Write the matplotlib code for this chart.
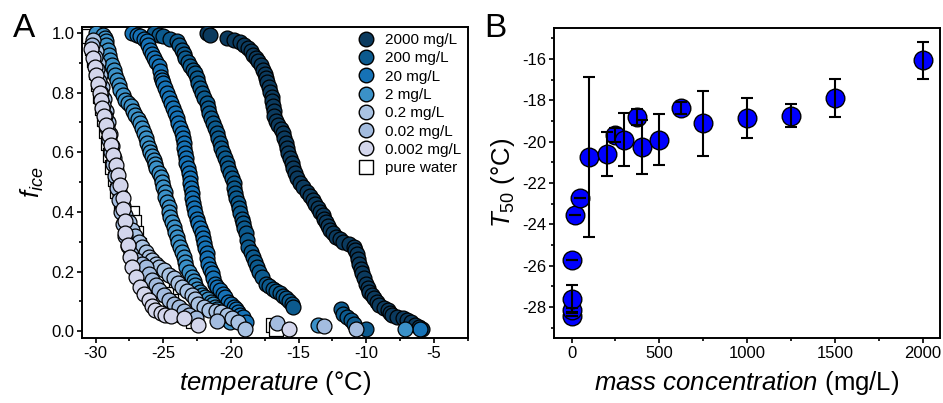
"""Two-panel figure: freezing curves (A) and T50 vs mass concentration (B)."""

import matplotlib
matplotlib.use("Agg")
import matplotlib.pyplot as plt
import numpy as np
from matplotlib.lines import Line2D
from matplotlib.ticker import MultipleLocator

# ---- panel A: frozen fraction curves, (temperature degC, f_ice) ----
curve_2000 = [
    (-21.75, 1.000), (-21.55, 0.992), (-20.3, 0.983), (-19.8, 0.976), (-19.3, 0.969),
    (-19.0, 0.960), (-18.7, 0.950), (-18.5, 0.940), (-18.35, 0.927), (-18.15, 0.916),
    (-18.0, 0.905), (-17.8, 0.891), (-17.6, 0.877), (-17.5, 0.863), (-17.4, 0.849),
    (-17.3, 0.835), (-17.2, 0.820), (-17.1, 0.803), (-17.0, 0.787), (-16.95, 0.771),
    (-16.9, 0.754), (-16.85, 0.737), (-16.8, 0.720), (-16.65, 0.705), (-16.5, 0.690),
    (-16.3, 0.677), (-16.15, 0.664), (-16.05, 0.647), (-15.95, 0.630), (-15.85, 0.613),
    (-15.8, 0.597), (-15.65, 0.580), (-15.5, 0.563), (-15.4, 0.547), (-15.3, 0.530),
    (-15.1, 0.513), (-14.9, 0.496), (-14.65, 0.482), (-14.4, 0.468), (-14.15, 0.454),
    (-13.9, 0.440), (-13.75, 0.426), (-13.6, 0.412), (-13.4, 0.401), (-13.2, 0.390),
    (-13.1, 0.378), (-13.0, 0.367), (-12.85, 0.353), (-12.7, 0.339), (-12.45, 0.328),
    (-12.2, 0.317), (-11.95, 0.308), (-11.7, 0.300), (-11.3, 0.291), (-10.9, 0.283),
    (-10.8, 0.271), (-10.7, 0.260), (-10.6, 0.243), (-10.5, 0.227), (-10.4, 0.210),
    (-10.3, 0.194), (-10.15, 0.177), (-10.0, 0.160), (-9.9, 0.146), (-9.8, 0.132),
    (-9.6, 0.121), (-9.4, 0.110), (-9.2, 0.098), (-9.05, 0.087), (-8.7, 0.078),
    (-8.4, 0.070), (-8.25, 0.062), (-8.1, 0.054), (-7.7, 0.048), (-7.3, 0.043),
    (-7.0, 0.037), (-6.7, 0.031), (-6.4, 0.020), (-6.1, 0.014), (-5.9, 0.009),
]

curve_200 = [
    (-25.7, 1.000), (-25.3, 0.994), (-25.0, 0.989), (-24.5, 0.981), (-24.0, 0.972),
    (-23.8, 0.958), (-23.6, 0.944), (-23.5, 0.930), (-23.4, 0.916), (-23.2, 0.902),
    (-23.0, 0.888), (-22.8, 0.877), (-22.65, 0.866), (-22.5, 0.849), (-22.4, 0.832),
    (-22.3, 0.816), (-22.15, 0.800), (-22.0, 0.783), (-21.8, 0.765), (-21.7, 0.748),
    (-21.6, 0.731), (-21.45, 0.715), (-21.3, 0.698), (-21.2, 0.681), (-21.05, 0.664),
    (-20.95, 0.647), (-20.8, 0.630), (-20.7, 0.613), (-20.6, 0.597), (-20.45, 0.580),
    (-20.3, 0.563), (-20.2, 0.547), (-20.1, 0.530), (-19.95, 0.513), (-19.8, 0.496),
    (-19.75, 0.479), (-19.7, 0.462), (-19.6, 0.446), (-19.5, 0.429), (-19.4, 0.412),
    (-19.3, 0.395), (-19.2, 0.378), (-19.1, 0.362), (-19.0, 0.345), (-18.9, 0.328),
    (-18.8, 0.306), (-18.7, 0.283), (-18.5, 0.267), (-18.35, 0.250), (-18.2, 0.233),
    (-18.1, 0.216), (-17.9, 0.200), (-17.7, 0.183), (-17.4, 0.160), (-17.15, 0.151),
    (-16.9, 0.143), (-16.65, 0.135), (-16.4, 0.127), (-16.15, 0.119), (-15.9, 0.110),
    (-15.7, 0.101), (-15.5, 0.093), (-15.4, 0.082), (-11.9, 0.076), (-11.75, 0.059),
    (-11.4, 0.048), (-11.1, 0.037), (-10.9, 0.026), (-10.0, 0.009),
]

curve_20 = [
    (-27.3, 1.000), (-26.95, 0.994), (-26.7, 0.989), (-26.45, 0.980), (-26.2, 0.972),
    (-26.1, 0.958), (-26.0, 0.944), (-25.85, 0.930), (-25.7, 0.916), (-25.5, 0.902),
    (-25.35, 0.888), (-25.25, 0.871), (-25.2, 0.854), (-25.1, 0.843), (-25.0, 0.832),
    (-24.85, 0.816), (-24.7, 0.800), (-24.55, 0.782), (-24.4, 0.765), (-24.25, 0.748),
    (-24.1, 0.731), (-24.0, 0.715), (-23.9, 0.698), (-23.75, 0.681), (-23.6, 0.664),
    (-23.55, 0.647), (-23.5, 0.630), (-23.45, 0.613), (-23.4, 0.597), (-23.35, 0.580),
    (-23.3, 0.563), (-23.2, 0.547), (-23.1, 0.530), (-23.05, 0.513), (-23.0, 0.496),
    (-22.95, 0.479), (-22.9, 0.462), (-22.85, 0.446), (-22.8, 0.429), (-22.7, 0.412),
    (-22.65, 0.395), (-22.5, 0.378), (-22.4, 0.362), (-22.3, 0.345), (-22.15, 0.328),
    (-22.05, 0.311), (-22.0, 0.295), (-21.9, 0.278), (-21.8, 0.261), (-21.75, 0.244),
    (-21.7, 0.227), (-21.55, 0.210), (-21.4, 0.194), (-21.3, 0.177), (-21.2, 0.160),
    (-21.0, 0.149), (-20.8, 0.138), (-20.6, 0.126), (-20.4, 0.115), (-20.2, 0.099),
    (-20.0, 0.090), (-19.8, 0.082), (-19.65, 0.073), (-19.5, 0.065), (-19.3, 0.056),
    (-19.1, 0.048), (-18.85, 0.031), (-6.0, 0.009),
]

curve_2 = [
    (-30.0, 1.000), (-29.45, 0.994), (-29.3, 0.983), (-29.25, 0.972), (-29.2, 0.958),
    (-29.1, 0.944), (-29.0, 0.927), (-28.9, 0.910), (-28.8, 0.894), (-28.65, 0.877),
    (-28.55, 0.860), (-28.4, 0.843), (-28.3, 0.827), (-28.2, 0.810), (-28.0, 0.793),
    (-27.8, 0.776), (-27.6, 0.765), (-27.4, 0.754), (-27.2, 0.740), (-27.05, 0.726),
    (-26.9, 0.712), (-26.7, 0.698), (-26.55, 0.681), (-26.45, 0.664), (-26.3, 0.647),
    (-26.2, 0.630), (-26.05, 0.616), (-25.95, 0.602), (-25.8, 0.588), (-25.7, 0.574),
    (-25.6, 0.560), (-25.5, 0.546), (-25.35, 0.532), (-25.2, 0.518), (-25.1, 0.501),
    (-25.0, 0.485), (-24.9, 0.468), (-24.85, 0.451), (-24.7, 0.434), (-24.6, 0.418),
    (-24.55, 0.401), (-24.5, 0.384), (-24.35, 0.367), (-24.2, 0.350), (-24.1, 0.333),
    (-24.0, 0.317), (-23.9, 0.300), (-23.75, 0.283), (-23.6, 0.266), (-23.5, 0.250),
    (-23.4, 0.233), (-23.3, 0.216), (-23.1, 0.200), (-22.9, 0.183), (-22.75, 0.169),
    (-22.65, 0.155), (-22.5, 0.143), (-22.3, 0.132), (-22.1, 0.123), (-21.9, 0.115),
    (-21.7, 0.107), (-21.5, 0.099), (-21.35, 0.090), (-21.2, 0.082), (-21.05, 0.073),
    (-20.9, 0.065), (-20.75, 0.056), (-20.6, 0.048), (-20.3, 0.040), (-20.1, 0.031),
    (-13.6, 0.020), (-7.1, 0.009),
]

curve_0p2 = [
    (-30.2, 0.977), (-30.0, 0.940), (-29.85, 0.900), (-29.7, 0.860), (-29.55, 0.820),
    (-29.4, 0.780), (-29.25, 0.740), (-29.1, 0.700), (-28.95, 0.660), (-28.8, 0.620),
    (-28.65, 0.580), (-28.5, 0.540), (-28.35, 0.500), (-28.2, 0.460), (-28.0, 0.420),
    (-27.8, 0.390), (-27.55, 0.365), (-27.3, 0.340), (-27.05, 0.320), (-26.8, 0.300),
    (-26.55, 0.283), (-26.3, 0.265), (-26.05, 0.250), (-25.8, 0.238), (-25.55, 0.225),
    (-25.3, 0.215), (-24.95, 0.205), (-24.6, 0.190), (-24.2, 0.177), (-23.9, 0.163),
    (-23.6, 0.149), (-23.25, 0.135), (-22.9, 0.121), (-22.65, 0.107), (-22.4, 0.093),
    (-22.0, 0.081), (-21.6, 0.070), (-21.1, 0.067), (-20.7, 0.065), (-20.3, 0.056),
    (-19.9, 0.045), (-19.45, 0.031), (-18.95, 0.009),
]

curve_0p02 = [
    (-30.25, 0.960), (-30.05, 0.920), (-29.9, 0.880), (-29.75, 0.840), (-29.6, 0.800),
    (-29.45, 0.760), (-29.3, 0.720), (-29.15, 0.680), (-29.0, 0.640), (-28.85, 0.600),
    (-28.7, 0.560), (-28.55, 0.520), (-28.4, 0.480), (-28.25, 0.440), (-28.1, 0.400),
    (-27.95, 0.360), (-27.8, 0.320), (-27.6, 0.285), (-27.35, 0.260), (-27.0, 0.240),
    (-26.6, 0.226), (-26.3, 0.216), (-26.05, 0.193), (-25.8, 0.171), (-25.55, 0.155),
    (-25.3, 0.138), (-24.95, 0.121), (-24.6, 0.104), (-24.2, 0.093), (-23.85, 0.082),
    (-23.45, 0.068), (-23.1, 0.054), (-22.6, 0.043), (-21.0, 0.035), (-16.6, 0.028),
    (-13.1, 0.019), (-10.75, 0.009),
]

curve_0p002 = [
    (-30.35, 0.945), (-30.2, 0.915), (-30.05, 0.885), (-29.95, 0.860), (-29.8, 0.830),
    (-29.7, 0.800), (-29.6, 0.775), (-29.5, 0.748), (-29.35, 0.720), (-29.2, 0.690),
    (-29.0, 0.658), (-28.85, 0.625), (-28.7, 0.590), (-28.5, 0.557), (-28.35, 0.525),
    (-28.2, 0.490), (-28.0, 0.446), (-27.95, 0.410), (-27.85, 0.370), (-27.8, 0.330),
    (-27.6, 0.290), (-27.45, 0.250), (-27.3, 0.216), (-27.0, 0.182), (-26.7, 0.149),
    (-26.4, 0.125), (-26.05, 0.104), (-25.8, 0.085), (-25.6, 0.070), (-25.2, 0.060),
    (-24.85, 0.054), (-24.4, 0.050), (-23.5, 0.043), (-22.45, 0.020), (-15.7, 0.009),
]

curve_water = [
    (-30.5, 0.990), (-30.3, 0.950), (-30.15, 0.910), (-30.0, 0.870), (-29.85, 0.830),
    (-29.7, 0.790), (-29.55, 0.750), (-29.4, 0.710), (-29.25, 0.670), (-29.1, 0.630),
    (-28.95, 0.590), (-28.8, 0.550), (-28.6, 0.510), (-28.4, 0.470), (-28.1, 0.430),
    (-27.3, 0.395), (-27.15, 0.367), (-27.0, 0.330), (-26.8, 0.290), (-26.5, 0.250),
    (-26.2, 0.215), (-25.8, 0.190), (-25.4, 0.168), (-25.1, 0.150), (-24.8, 0.125),
    (-24.4, 0.100), (-24.0, 0.075), (-23.5, 0.055), (-22.8, 0.035), (-16.9, 0.020),
    (-16.7, 0.009),
]

labels_a = ["2000 mg/L", "200 mg/L", "20 mg/L", "2 mg/L",
            "0.2 mg/L", "0.02 mg/L", "0.002 mg/L"]
colors_a = ["#0b3a5e", "#0c5a8e", "#1672b6", "#3b91c8",
            "#a9c3e3", "#a3bcdf", "#d3d6ec"]

# ---- panel B: T50 vs mass concentration ----
conc = [0.002, 0.02, 0.2, 2, 20, 50, 100, 200, 250, 300, 375, 400, 500,
        625, 750, 1000, 1250, 1500, 2000]
t50 = [-28.45, -28.15, -27.6, -25.7, -23.55, -22.75, -20.75, -20.6, -19.67,
       -19.9, -18.82, -20.27, -19.91, -18.38, -19.12, -18.85, -18.74, -17.89, -16.08]
t50_err = [0.0, 0.12, 0.65, 0.0, 0.0, 0.0, 3.85, 1.08, 0.33, 1.28, 0.4, 1.3,
           1.23, 0.3, 1.58, 0.98, 0.57, 0.92, 0.9]

plt.rcParams["font.family"] = ["Liberation Sans", "DejaVu Sans"]
plt.rcParams["mathtext.fontset"] = "custom"
plt.rcParams["mathtext.rm"] = "Liberation Sans"
plt.rcParams["mathtext.it"] = "Liberation Sans:italic"
plt.rcParams["axes.linewidth"] = 1.4
plt.rcParams["axes.unicode_minus"] = False


def style_axis(ax):
    ax.tick_params(which="both", direction="out", top=False, right=False,
                   width=1.2, labelsize=12, pad=2)
    ax.tick_params(which="major", length=3.5)
    ax.tick_params(which="minor", length=2.2)


fig = plt.figure(figsize=(9.43, 4.03), dpi=100)
ax_a = fig.add_axes([0.087, 0.161, 0.409, 0.772])
ax_b = fig.add_axes([0.5875, 0.161, 0.4095, 0.770])

# panel A
pw = np.array(curve_water)
ax_a.scatter(pw[:, 0], pw[:, 1], s=100, marker="s", facecolors="white",
             edgecolors="black", linewidths=0.9, zorder=2)
curves = [curve_2000, curve_200, curve_20, curve_2, curve_0p2, curve_0p02, curve_0p002]
handles = []
for data, color, label in zip(curves, colors_a, labels_a):
    arr = np.array(data)
    ax_a.scatter(arr[:, 0], arr[:, 1], s=115, color=color, edgecolors="black",
                 linewidths=0.9, zorder=3)
    handles.append(Line2D([], [], linestyle="none", marker="o", markersize=10.5,
                          markerfacecolor=color, markeredgecolor="black",
                          markeredgewidth=1.0, label=label))
handles.append(Line2D([], [], linestyle="none", marker="s", markersize=9.5,
                      markerfacecolor="white", markeredgecolor="black",
                      markeredgewidth=1.0, label="pure water"))

ax_a.set_xlim(-31, -2.5)
ax_a.set_ylim(-0.023, 1.02)
ax_a.xaxis.set_major_locator(MultipleLocator(5))
ax_a.xaxis.set_minor_locator(MultipleLocator(2.5))
ax_a.yaxis.set_major_locator(MultipleLocator(0.2))
ax_a.yaxis.set_minor_locator(MultipleLocator(0.1))
ax_a.set_yticks([0.0, 0.2, 0.4, 0.6, 0.8, 1.0])
ax_a.set_yticklabels(["0.0", "0.2", "0.4", "0.6", "0.8", "1.0"])
style_axis(ax_a)
ax_a.set_xlabel(r"$\mathit{temperature}$ (°C)", fontsize=18.5, labelpad=6)
ax_a.set_ylabel(r"$f_{ice}$", fontsize=18.5, labelpad=4)
ax_a.legend(handles=handles, loc="upper right", bbox_to_anchor=(1.0, 1.0),
            frameon=False, fontsize=11, handlelength=1.0, handletextpad=0.8,
            labelspacing=0.28, borderaxespad=0.2, borderpad=0.2)

# panel B
ax_b.scatter(conc, t50, s=180, color="#0000ff", edgecolors="black",
             linewidths=1.0, zorder=2)
ax_b.errorbar(conc, t50, yerr=t50_err, fmt="none", ecolor="black",
              elinewidth=1.5, capsize=4, capthick=1.5, zorder=3)
ax_b.set_xlim(-100, 2100)
ax_b.set_ylim(-29.5, -14.5)
ax_b.xaxis.set_major_locator(MultipleLocator(500))
ax_b.xaxis.set_minor_locator(MultipleLocator(250))
ax_b.yaxis.set_major_locator(MultipleLocator(2))
ax_b.yaxis.set_minor_locator(MultipleLocator(1))
ax_b.set_yticks([-28, -26, -24, -22, -20, -18, -16])
style_axis(ax_b)
ax_b.set_xlabel(r"$\mathit{mass\ concentration}$ (mg/L)", fontsize=18.5, labelpad=6)
ax_b.set_ylabel(r"$T_{50}$ (°C)", fontsize=18.5, labelpad=4)

fig.text(0.025, 0.93, "A", fontsize=24, ha="center", va="center")
fig.text(0.525, 0.93, "B", fontsize=24, ha="center", va="center")

fig.savefig("out.png", dpi=100)
